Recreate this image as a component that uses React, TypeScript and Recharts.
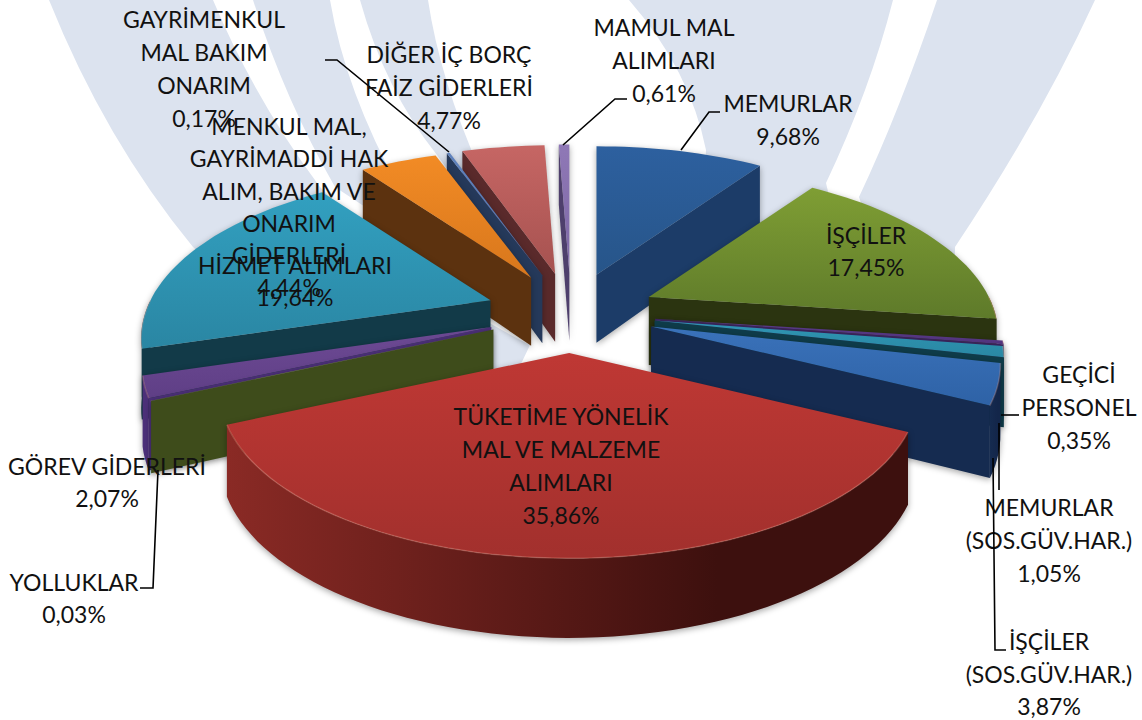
import { PieChart, Pie } from 'recharts'

const categories = [
  'MEMURLAR',
  'İŞÇİLER',
  'GEÇİCİ PERSONEL',
  'MEMURLAR (SOS.GÜV.HAR.)',
  'İŞÇİLER (SOS.GÜV.HAR.)',
  'TÜKETİME YÖNELİK MAL VE MALZEME ALIMLARI',
  'YOLLUKLAR',
  'GÖREV GİDERLERİ',
  'HİZMET ALIMLARI',
  'MENKUL MAL, GAYRİMADDİ HAK ALIM, BAKIM VE ONARIM GİDERLERİ',
  'GAYRİMENKUL MAL BAKIM ONARIM',
  'DİĞER İÇ BORÇ FAİZ GİDERLERİ',
  'MAMUL MAL ALIMLARI',
]
const shares = [9.68, 17.45, 0.35, 1.05, 3.87, 35.86, 0.03, 2.07, 19.64, 4.44, 0.17, 4.77, 0.61]
const shareTexts = ['9,68%', '17,45%', '0,35%', '1,05%', '3,87%', '35,86%', '0,03%', '2,07%', '19,64%', '4,44%', '0,17%', '4,77%', '0,61%']

const topColors = ['#2d609f', '#7f9e34', '#5b3b8c', '#2f95b3', '#3a72ba', '#bf3834', '#7f9e34', '#6d4a94', '#32a0c0', '#f28b25', '#5f82bd', '#c66664', '#8f78b6']
const topColorsLow = ['#275589', '#5e7a2a', '#53357f', '#2a88a4', '#2e62a6', '#a2302d', '#5e7a2a', '#5f3f86', '#2a86a3', '#d8771c', '#4f70a8', '#a65250', '#7d67a5']
const sideColors = ['#1c3c68', '#2b3410', '#3c2560', '#0f3c4a', '#152b50', '#8a2a25', '#3e4c1b', '#4c3079', '#123a48', '#5c320f', '#25395a', '#5a2a2b', '#4e3f6c']
const sideColorsDark = ['#18335a', '#2b3410', '#3c2560', '#0f3c4a', '#13264a', '#3d100e', '#3e4c1b', '#4c3079', '#123a48', '#4e2a0d', '#25395a', '#4c2324', '#4e3f6c']

// wrapped label text, same order as categories
const labelLines = [
  ['MEMURLAR'],
  ['İŞÇİLER'],
  ['GEÇİCİ', 'PERSONEL'],
  ['MEMURLAR', '(SOS.GÜV.HAR.)'],
  ['İŞÇİLER', '(SOS.GÜV.HAR.)'],
  ['TÜKETİME YÖNELİK', 'MAL VE MALZEME', 'ALIMLARI'],
  ['YOLLUKLAR'],
  ['GÖREV GİDERLERİ'],
  ['HİZMET ALIMLARI'],
  ['MENKUL MAL,', 'GAYRİMADDİ HAK', 'ALIM, BAKIM VE', 'ONARIM', 'GİDERLERİ'],
  ['GAYRİMENKUL', 'MAL BAKIM', 'ONARIM'],
  ['DİĞER İÇ BORÇ', 'FAİZ GİDERLERİ'],
  ['MAMUL MAL', 'ALIMLARI'],
]

const tableData = categories.map((name, i) => ({ name, value: shares[i] }))
const reversedData = [...tableData].reverse()

// label layout, kept apart from the values: centre x, first line y, line gap, leader
const labelLayout: { x: number; y: number; gap: number; leader?: string }[] = [
  { x: 788, y: 104, gap: 33, leader: '720,112 709,112 681,150' },
  { x: 866, y: 236, gap: 32 },
  { x: 1079, y: 375, gap: 33, leader: '1019,415 1001,415' },
  { x: 1049, y: 508, gap: 33, leader: '999,423 999,490' },
  { x: 1049, y: 642, gap: 32.5, leader: '1006,650 995,650 993,458' },
  { x: 561, y: 417, gap: 33 },
  { x: 74, y: 583, gap: 32, leader: '140,588 153,588 158,470' },
  { x: 107, y: 467, gap: 32 },
  { x: 295, y: 266, gap: 32 },
  { x: 289, y: 127, gap: 32.2 },
  { x: 204, y: 20, gap: 33, leader: '325,60 337,60 449,152' },
  { x: 449, y: 55, gap: 33 },
  { x: 664, y: 28, gap: 33, leader: '627,99 615,99 563,145' },
]

const CX = 571
const CY = 313
const RADIUS = 340
const TILT = 0.465 // vertical squash of the disc
const PERSPECTIVE = 0.23
const EXPLODE_X = 85
const EXPLODE_Y = 40
const DEPTH = 68
const LAST_RIGHT = 5 // tüketime is the front slice, painted last

const rad = (d: number) => (d * Math.PI) / 180

function project(theta: number, radius: number) {
  const z = -Math.cos(rad(theta))
  const s = 1 / (1 - PERSPECTIVE * z)
  return {
    x: radius * Math.sin(rad(theta)) * s,
    y: TILT * radius * z * s,
    h: DEPTH * Math.pow(s, 0.6),
  }
}

function Wedge(props: any) {
  const { startAngle, endAngle, outerRadius, cx, cy, name, side } = props
  const index = categories.indexOf(name)
  const isRight = index <= LAST_RIGHT
  if ((side === 'right') !== isRight) return <g />

  // recharts angles run anticlockwise from east, here clockwise from the top
  let a = 90 - Math.max(startAngle, endAngle)
  let b = 90 - Math.min(startAngle, endAngle)
  if (a < -1e-6) {
    a += 360
    b += 360
  }
  const mid = (a + b) / 2
  const ox = cx + EXPLODE_X * Math.sin(rad(mid))
  const oy = cy - EXPLODE_Y * Math.cos(rad(mid))

  const arc = (from: number, to: number) => {
    const n = Math.max(2, Math.ceil((to - from) / 2))
    return Array.from({ length: n + 1 }, (_, i) => project(from + ((to - from) * i) / n, outerRadius))
  }
  const pt = (p: { x: number; y: number }, dy = 0) => `${(ox + p.x).toFixed(1)},${(oy + p.y + dy).toFixed(1)}`

  const rim = arc(a, b)
  const topPath = `M${ox},${oy} L${rim.map((p) => pt(p)).join(' L')} Z`

  const radialWall = (edge: number) => {
    const p = project(edge, outerRadius)
    return `M${ox},${oy} L${pt(p)} L${pt(p, p.h)} L${ox},${oy + DEPTH} Z`
  }

  const wallFrom = Math.max(a, 90)
  const wallTo = Math.min(b, 270)
  let outerPath = ''
  let rimLine = ''
  if (wallTo > wallFrom) {
    const wall = arc(wallFrom, wallTo)
    rimLine = wall.map((p) => pt(p)).join(' ')
    outerPath = `M${wall.map((p) => pt(p)).join(' L')} L${[...wall]
      .reverse()
      .map((p) => pt(p, p.h))
      .join(' L')} Z`
  }

  const topId = `top-${index}`
  const sideId = `side-${index}`
  return (
    <g style={{ filter: 'drop-shadow(0px 2px 3px rgba(0,0,0,0.35))' }}>
      <defs>
        <linearGradient id={topId} x1="0" y1="0" x2="0" y2="1">
          <stop offset="0%" stopColor={topColors[index]} />
          <stop offset="100%" stopColor={topColorsLow[index]} />
        </linearGradient>
        <linearGradient id={sideId} x1="0" y1="0" x2="1" y2="0">
          <stop offset="0%" stopColor={sideColors[index]} />
          <stop offset="72%" stopColor={sideColorsDark[index]} />
          <stop offset="100%" stopColor={sideColorsDark[index]} />
        </linearGradient>
      </defs>
      {Math.sin(rad(a)) < -1e-6 && <path d={radialWall(a)} fill={sideColors[index]} />}
      {Math.sin(rad(b)) > 1e-6 && <path d={radialWall(b)} fill={sideColors[index]} />}
      {outerPath && <path d={outerPath} fill={`url(#${sideId})`} />}
      <path d={topPath} fill={`url(#${topId})`} />
      {rimLine && <polyline points={rimLine} fill="none" stroke="rgba(255,170,150,0.25)" strokeWidth={1.5} />}
    </g>
  )
}

function SliceLabel(props: any) {
  const i = categories.indexOf(props.name)
  const { x, y, gap, leader } = labelLayout[i]
  const lines = [...labelLines[i], shareTexts[i]]
  return (
    <g>
      {leader && <polyline points={leader} fill="none" stroke="#000" strokeWidth={1.6} />}
      {lines.map((line, n) => (
        <text
          key={n}
          x={x}
          y={y + n * gap}
          dy="0.36em"
          textAnchor="middle"
          fill="#111"
          fontSize={23}
          fontFamily="Lato, 'Open Sans', sans-serif"
        >
          {line}
        </text>
      ))}
    </g>
  )
}

// pale logo bands behind the pie
const bands = [
  'M49,0 Q105,140 193,247 Q330,370 497,368 L520,366 L530,345 Q420,290 320,187 Q255,100 213,0 Z',
  'M253,0 Q285,100 335,187 L400,230 L400,190 Q345,90 330,0 Z',
  'M360,0 Q385,90 437,155 L470,200 L480,170 Q440,80 428,0 Z',
  'M629,0 Q690,70 706,150 L700,270 L830,200 L826,183 Q870,90 893,0 Z',
  'M937,0 Q900,110 859,197 L880,260 L955,270 L955,247 Q1040,120 1095,0 Z',
]

export default function App() {
  return (
    <div style={{ position: 'absolute', left: 0, top: 0, width: 1142, height: 720, background: '#fff' }}>
      <svg width={1142} height={720} style={{ position: 'absolute', left: 0, top: 0 }}>
        {bands.map((d) => (
          <path key={d} d={d} fill="#dce3ef" />
        ))}
      </svg>
      <div style={{ position: 'absolute', left: 0, top: 0 }}>
        <PieChart width={1142} height={720} margin={{ top: 0, right: 0, bottom: 0, left: 0 }}>
          {/* left half painted back to front: reversed data, running the other way */}
          <Pie
            data={reversedData}
            dataKey="value"
            nameKey="name"
            cx={CX}
            cy={CY}
            outerRadius={RADIUS}
            startAngle={90}
            endAngle={450}
            isAnimationActive={false}
            shape={(p: any) => <Wedge {...p} side="left" />}
          />
          <Pie
            data={tableData}
            dataKey="value"
            nameKey="name"
            cx={CX}
            cy={CY}
            outerRadius={RADIUS}
            startAngle={90}
            endAngle={-270}
            isAnimationActive={false}
            shape={(p: any) => <Wedge {...p} side="right" />}
          />
          {/* labels on top of everything */}
          <Pie
            data={tableData}
            dataKey="value"
            nameKey="name"
            cx={CX}
            cy={CY}
            outerRadius={RADIUS}
            startAngle={90}
            endAngle={-270}
            isAnimationActive={false}
            shape={() => <g />}
            labelLine={false}
            label={(p: any) => <SliceLabel {...p} />}
          />
        </PieChart>
      </div>
    </div>
  )
}
